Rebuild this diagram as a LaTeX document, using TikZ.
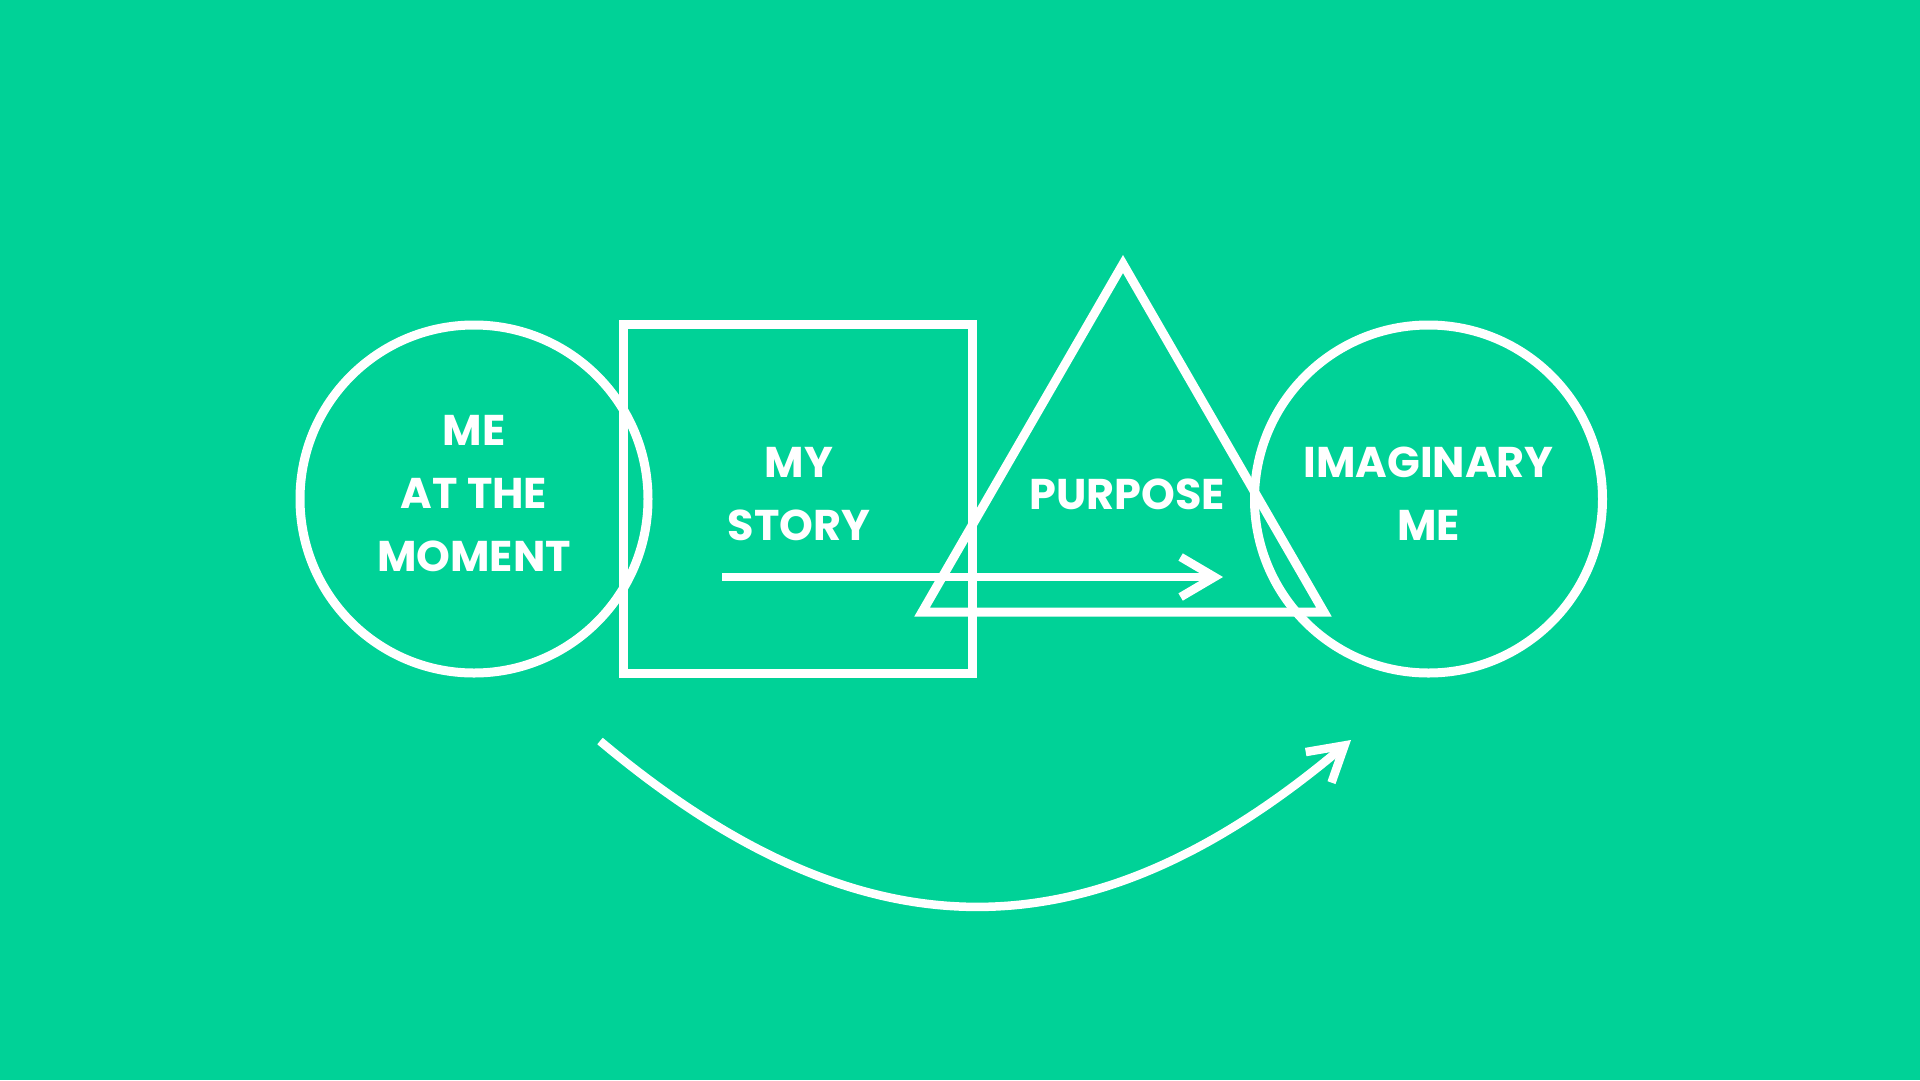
\documentclass[tikz,border=0pt]{standalone}
\usepackage{fontspec}
\newfontfamily\labelfont{Poppins}
\usetikzlibrary{shapes.geometric,arrows.meta}
\definecolor{bggreen}{RGB}{0,210,151}

\begin{document}
\begin{tikzpicture}[x=1pt,y=-1pt,
  outline/.style={draw=white, line width=9pt, inner sep=0pt},
  word/.style={text=white, align=center, inner sep=0pt,
    font=\labelfont\bfseries\fontsize{43}{63}\selectfont},
  flow/.style={draw=white, line width=8.5pt,
    -{Straight Barb[length=34pt,width=40pt,sharp]}}]
\fill[bggreen] (0,0) rectangle (1920,1080);
\useasboundingbox (0,0) rectangle (1920,1080);

\node[outline, circle, minimum size=348pt] (now) at (474,499) {};
\node[outline, rectangle, minimum size=349pt] (story) at (797.5,499) {};
\node[outline, regular polygon, regular polygon sides=3, minimum size=464pt] (purpose) at (1123,496) {};
\node[outline, circle, minimum size=348pt] (imaginary) at (1428.5,499) {};

\node[word] (nowText) at (474,494) {ME\\AT THE\\MOMENT};
\node[word] (storyText) at (799,494) {MY\\STORY};
\node[word] (purposeText) at (1127,494) {PURPOSE};
\node[word] (imaginaryText) at (1428.5,494) {IMAGINARY\\ME};

\coordinate (flowStart) at (722,577);
\coordinate (flowEnd) at (1223,577);
\draw[flow] (flowStart) -- (flowEnd);

\coordinate (leapStart) at (600,741);
\coordinate (leapEnd) at (1351,740);
\draw[flow] (leapStart) .. controls (862,961) and (1089,961) .. (leapEnd);
\end{tikzpicture}
\end{document}
